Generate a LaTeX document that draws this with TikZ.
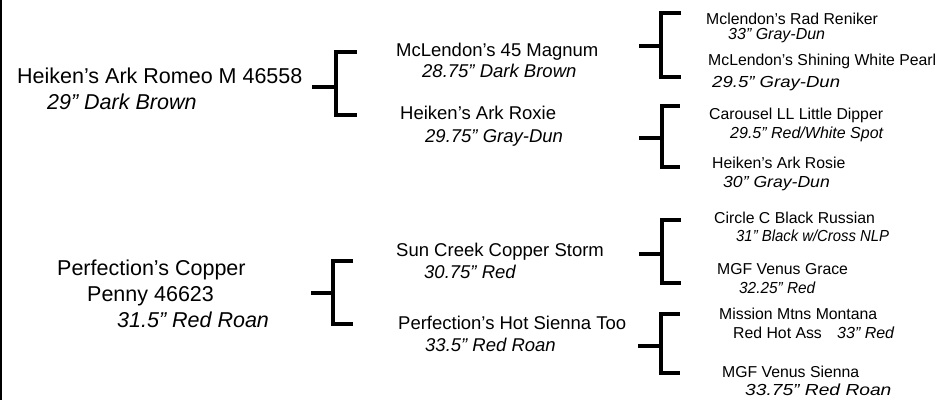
\documentclass[tikz,border=0pt]{standalone}
\usepackage{graphicx}
\usepackage{fontspec}
\setmainfont{Liberation Sans}
\usetikzlibrary{calc}

\tikzset{
    horse/.style={anchor=base west, inner sep=0pt},
    gen0/.style={horse, font=\fontsize{21.5}{25}\selectfont},
    gen1/.style={horse, font=\fontsize{18.5}{22}\selectfont},
    gen2/.style={horse, font=\fontsize{15.8}{18}\selectfont},
    colour/.style={horse, font=\fontsize{16}{18}\selectfont\itshape},
    bracket/.style={line width=4pt, line cap=butt, line join=miter},
}
% italic colour line, stretched sideways as in the chart
\newcommand\wide[2]{\scalebox{#1}[1]{#2}}

\begin{document}
\begin{tikzpicture}[x=1pt, y=-1pt]

    \useasboundingbox (0,0) rectangle (945,400);
    \draw[line width=2pt] (1,0) -- (1,400);

    % first generation
    \node[gen0] (romeo) at (17,83) {Heiken’s Ark Romeo M 46558};
    \node[gen0] (romeo-c) at (47,109) {\itshape 29” Dark Brown};
    \node[gen0] (penny) at (57,275) {Perfection’s Copper};
    \node[gen0] (penny-b) at (87,301) {Penny 46623};
    \node[gen0] (penny-c) at (117,327) {\itshape 31.5” Red Roan};

    % parents
    \node[gen1] (magnum) at (396,56) {McLendon’s 45 Magnum};
    \node[gen1] (magnum-c) at (422,77) {\itshape 28.75” Dark Brown};
    \node[gen1] (roxie) at (400,119) {Heiken’s Ark Roxie};
    \node[gen1] (roxie-c) at (425,142) {\itshape 29.75” Gray-Dun};
    \node[gen1] (storm) at (396,256) {Sun Creek Copper Storm};
    \node[gen1] (storm-c) at (424,278) {\itshape 30.75” Red};
    \node[gen1] (hotsienna) at (398,329) {Perfection’s Hot Sienna Too};
    \node[gen1] (hotsienna-c) at (425,351) {\itshape 33.5” Red Roan};

    % grandparents
    \node[gen2] (reniker) at (706,24) {Mclendon’s Rad Reniker};
    \node[colour] (reniker-c) at (728,39) {33” Gray-Dun};
    \node[gen2] (pearl) at (708,65) {McLendon’s Shining White Pearl};
    \node[colour] (pearl-c) at (712,87) {\wide{1.16}{29.5” Gray-Dun}};
    \node[gen2] (dipper) at (709,119) {Carousel LL Little Dipper};
    \node[colour] (dipper-c) at (730,138) {29.5” Red/White Spot};
    \node[gen2] (rosie) at (712,168) {Heiken’s Ark Rosie};
    \node[colour] (rosie-c) at (723,187) {\wide{1.1}{30” Gray-Dun}};
    \node[gen2] (russian) at (714,223) {Circle C Black Russian};
    \node[colour] (russian-c) at (736,241) {\wide{0.93}{31” Black w/Cross NLP}};
    \node[gen2] (grace) at (717,274) {MGF Venus Grace};
    \node[colour] (grace-c) at (739,293) {\wide{0.96}{32.25” Red}};
    \node[gen2] (montana) at (719,319) {Mission Mtns Montana};
    \node[gen2] (montana-b) at (733,338) {Red Hot Ass};
    \node[colour] (montana-c) at (837,338) {33” Red};
    \node[gen2] (vsienna) at (722,377) {MGF Venus Sienna};
    \node[colour] (vsienna-c) at (745,395) {\wide{1.2}{33.75” Red Roan}};

    % brackets: stub x / stub y / spine x / top y / bottom y / arm end x
    \foreach \sx/\sy/\vx/\ty/\by/\ax in {312/87/336/52/115/357, 311/293/333/261/324/353,
        639/46/661/13/77/681, 639/138/662/106/167/680,
        639/254/662/220/283/681, 638/346/661/314/373/680}
        \draw[bracket] (\sx,\sy) -- (\vx,\sy)
            (\ax,\ty) -- (\vx,\ty) -- (\vx,\by) -- (\ax,\by);

\end{tikzpicture}
\end{document}
